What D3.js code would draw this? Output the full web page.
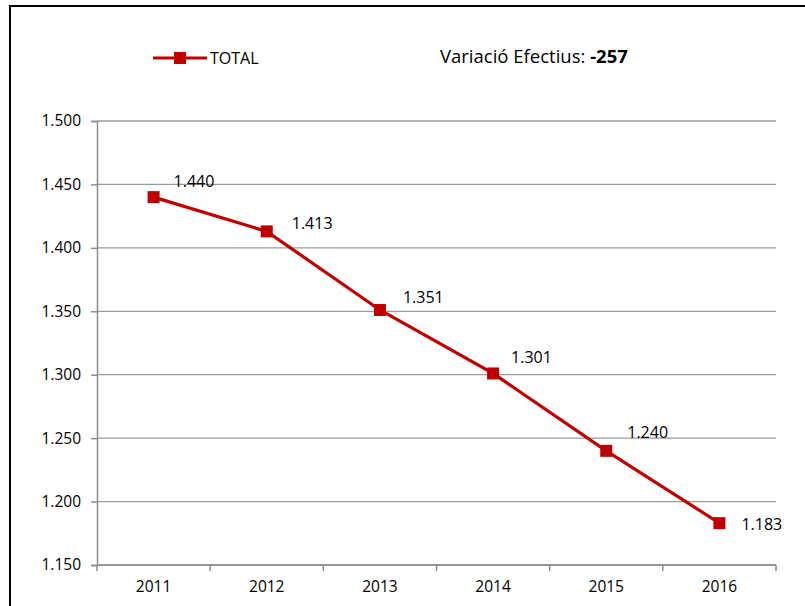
<!DOCTYPE html>
<html>
<head>
<meta charset="utf-8">
<script src="https://cdn.jsdelivr.net/npm/d3@7"></script>
<style>
  body { margin: 0; background: #fff; }
  text { font-family: "Open Sans", "Liberation Sans", sans-serif; fill: #000; }
</style>
</head>
<body>
<svg width="805" height="606"></svg>
<script>
// dades
var years = ["2011", "2012", "2013", "2014", "2015", "2016"];
var totals = [1440, 1413, 1351, 1301, 1240, 1183];
var yTicks = [1150, 1200, 1250, 1300, 1350, 1400, 1450, 1500];
var variacio = -257;

// desplaçament manual de les etiquetes (com a l'Excel)
var labelDx = [20, 25, 23, 18, 21, 22];
var labelDy = [-16, -8, -13, -16, -18, 1];

var svg = d3.select("svg");
var red = "#c00000";

// marc exterior
svg.append("rect")
  .attr("x", 10).attr("y", 6)
  .attr("width", 805).attr("height", 620)
  .attr("fill", "none")
  .attr("stroke", "#000")
  .attr("stroke-width", 2);

var margin = {top: 121, left: 97, right: 29, bottom: 41};
var graphWidth = 805 - margin.left - margin.right;
var graphHeight = 606 - margin.top - margin.bottom;

var graph = svg.append("g")
  .attr("transform", "translate(" + margin.left + "," + margin.top + ")");

var x = d3.scaleBand().domain(years).range([0, graphWidth]);
var y = d3.scaleLinear().domain([1150, 1500]).range([graphHeight, 0]);

var fmt = function(v) { return d3.format(",.3f")(v / 1000).replace(",", "."); };

// línies de graella
graph.append("g")
  .selectAll("line")
  .data(yTicks)
  .join("line")
  .attr("x1", 0).attr("x2", graphWidth)
  .attr("y1", d => y(d)).attr("y2", d => y(d))
  .attr("stroke", "#9a9a9a")
  .attr("stroke-width", 1.3);

// eix y
var yAxis = d3.axisLeft(y).tickValues(yTicks).tickSize(6).tickPadding(10)
  .tickFormat(d => fmt(d));
var yAxisGroup = graph.append("g").call(yAxis);
yAxisGroup.select(".domain").attr("stroke", "#8c8c8c").attr("stroke-width", 1.5);
yAxisGroup.selectAll(".tick line").attr("stroke", "#8c8c8c").attr("stroke-width", 1.5);
yAxisGroup.selectAll("text").style("font-size", "15.5px");

// eix x
var xAxisGroup = graph.append("g")
  .attr("transform", "translate(0," + graphHeight + ")");
xAxisGroup.append("line")
  .attr("x1", 0).attr("x2", graphWidth)
  .attr("stroke", "#8c8c8c").attr("stroke-width", 1.5);
xAxisGroup.selectAll(".tk")
  .data(years.concat(["end"]))
  .join("line")
  .attr("class", "tk")
  .attr("x1", (d, i) => i * x.bandwidth())
  .attr("x2", (d, i) => i * x.bandwidth())
  .attr("y1", 0).attr("y2", 6)
  .attr("stroke", "#8c8c8c").attr("stroke-width", 1.5);
xAxisGroup.selectAll("text")
  .data(years)
  .join("text")
  .attr("x", d => x(d) + x.bandwidth() / 2)
  .attr("y", 27)
  .attr("text-anchor", "middle")
  .style("font-size", "15.5px")
  .text(d => d);

// línia
var line = d3.line()
  .x((d, i) => x(years[i]) + x.bandwidth() / 2)
  .y(d => y(d));

graph.append("path")
  .datum(totals)
  .attr("d", line)
  .attr("fill", "none")
  .attr("stroke", red)
  .attr("stroke-width", 3.2);

graph.selectAll(".mk")
  .data(totals)
  .join("rect")
  .attr("class", "mk")
  .attr("x", (d, i) => x(years[i]) + x.bandwidth() / 2 - 6)
  .attr("y", d => y(d) - 6)
  .attr("width", 12).attr("height", 12)
  .attr("fill", red);

// etiquetes
graph.selectAll(".lbl")
  .data(totals)
  .join("text")
  .attr("class", "lbl")
  .attr("x", (d, i) => x(years[i]) + x.bandwidth() / 2 + labelDx[i])
  .attr("y", (d, i) => y(d) + labelDy[i])
  .attr("dy", "0.35em")
  .style("font-size", "16px")
  .text(d => fmt(d));

// llegenda
var legend = svg.append("g").attr("transform", "translate(153,58)");
legend.append("line")
  .attr("x1", 0).attr("x2", 54)
  .attr("stroke", red).attr("stroke-width", 3.2);
legend.append("rect")
  .attr("x", 21).attr("y", -6)
  .attr("width", 12).attr("height", 12)
  .attr("fill", red);
legend.append("text")
  .attr("x", 57).attr("y", 0).attr("dy", "0.35em")
  .style("font-size", "16px")
  .text("TOTAL");

// títol
var title = svg.append("text")
  .attr("x", 440).attr("y", 57).attr("dy", "0.35em")
  .style("font-size", "18.5px");
title.append("tspan").text("Variació Efectius: ");
title.append("tspan").attr("font-weight", "bold").text(variacio);
</script>
</body>
</html>
